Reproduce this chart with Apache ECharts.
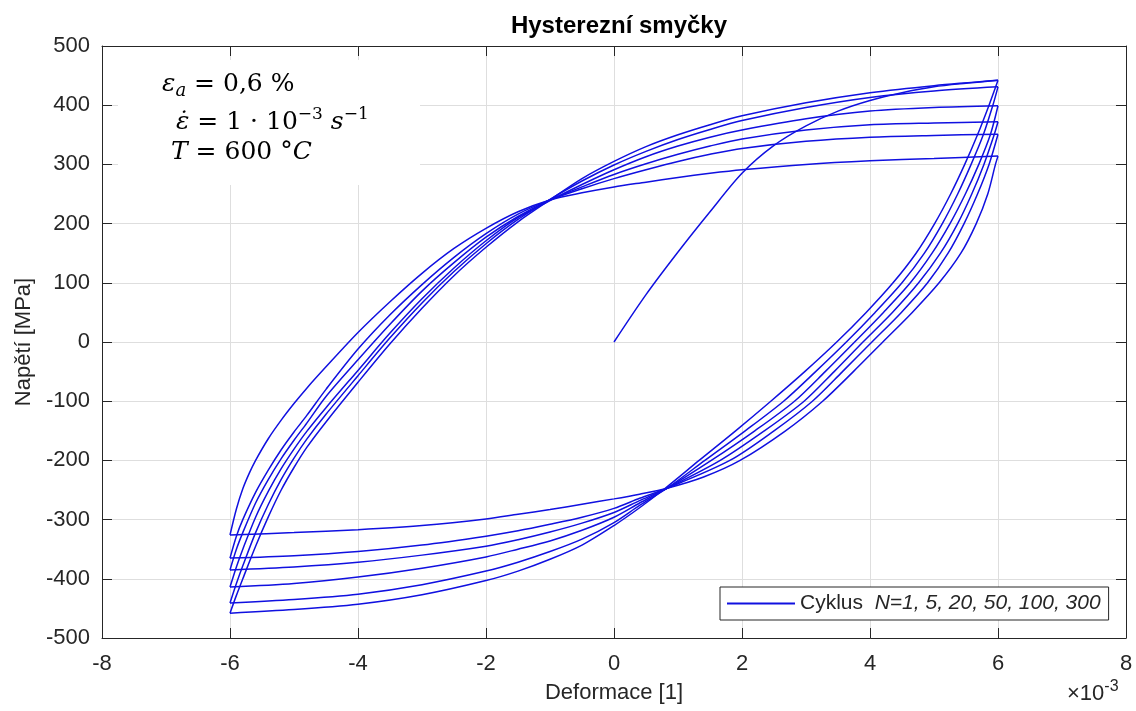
<!DOCTYPE html>
<html><head><meta charset="utf-8">
<script src="https://cdn.jsdelivr.net/npm/echarts@6/dist/echarts.min.js"></script>
<style>html,body{margin:0;padding:0;background:#fff}#c{width:1136px;height:711px}</style>
</head><body><div id="c"></div>
<script>
// ---- data (strain in 1e-3, stress in MPa) ----
const initialLoading = [[0,0],[0.5,80],[1,152],[1.5,220],[2,285],[2.5,332],[3,365],[3.5,390],[4,408],[4.5,421],[5,431],[5.5,437],[6,442]];

const upperN1   = [[-6,-458],[-5.9,-428],[-5.8,-400],[-5.6,-345],[-5.4,-295],[-5.2,-250],[-5,-212],[-4.8,-178],[-4.5,-135],[-4,-68],[-3.5,-3],[-3,57],[-2.5,112],[-2,160],[-1.5,203],[-1,240],[-0.5,276],[0,305],[0.5,330],[1,350],[1.5,367],[2,382],[3,404],[4,421],[5,433],[6,442]];
const upperN5   = [[-6,-441],[-5.9,-408],[-5.8,-378],[-5.6,-322],[-5.4,-274],[-5.2,-232],[-5,-196],[-4.8,-164],[-4.5,-122],[-4,-57],[-3.5,7],[-3,66],[-2.5,119],[-2,166],[-1.5,207],[-1,241],[-0.5,272],[0,299],[0.5,322],[1,342],[1.5,359],[2,374],[3,396],[4,413],[5,424],[6,431]];
const upperN20  = [[-6,-414],[-5.9,-380],[-5.8,-350],[-5.6,-296],[-5.4,-252],[-5.2,-214],[-5,-181],[-4.8,-151],[-4.5,-111],[-4,-48],[-3.5,15],[-3,73],[-2.5,125],[-2,171],[-1.5,210],[-1,239],[-0.5,266],[0,291],[0.5,313],[1,331],[1.5,346],[2,358],[3,377],[4,390],[5,396],[6,399]];
const upperN50  = [[-6,-385],[-5.9,-350],[-5.8,-322],[-5.6,-272],[-5.4,-232],[-5.2,-197],[-5,-166],[-4.8,-137],[-4.5,-92],[-4,-30],[-3.5,30],[-3,86],[-2.5,134],[-2,177],[-1.5,212],[-1,240],[-0.5,262],[0,283],[0.5,301],[1,317],[1.5,331],[2,343],[3,358],[4,367],[5,370],[6,372]];
const upperN100 = [[-6,-365],[-5.9,-328],[-5.8,-300],[-5.6,-254],[-5.4,-216],[-5.2,-182],[-5,-152],[-4.8,-124],[-4.5,-80],[-4,-12],[-3.5,46],[-3,97],[-2.5,143],[-2,183],[-1.5,216],[-1,240],[-0.5,259],[0,276],[0.5,291],[1,305],[1.5,317],[2,327],[3,339],[4,346],[5,349],[6,351]];
const upperN300 = [[-6,-326],[-5.9,-282],[-5.8,-248],[-5.7,-222],[-5.6,-200],[-5.4,-163],[-5.2,-132],[-5,-104],[-4.8,-78],[-4.5,-42],[-4,16],[-3.5,68],[-3,116],[-2.5,158],[-2,192],[-1.5,220],[-1,240],[-0.5,252],[0,262],[0.5,270],[1,278],[1.5,285],[2,291],[3,300],[4,306],[5,310],[6,314]];

const lowerN1   = [[-6,-458],[-5,-452],[-4,-443],[-3,-427],[-2,-403],[-1.5,-387],[-1,-367],[-0.5,-343],[0,-310],[0.4,-280],[0.8,-247],[1.33,-200],[1.9,-150],[2.45,-100],[2.98,-50],[3.48,0],[3.94,50],[4.36,100],[4.72,150],[5.01,200],[5.26,250],[5.48,300],[5.68,350],[5.86,400],[6,442]];
const lowerN5   = [[-6,-441],[-5,-435],[-4,-426],[-3,-410],[-2,-387],[-1.5,-372],[-1,-354],[-0.5,-333],[0,-305],[0.4,-276],[0.83,-247],[1.42,-200],[2.05,-150],[2.65,-100],[3.15,-50],[3.63,0],[4.08,50],[4.5,100],[4.85,150],[5.13,200],[5.37,250],[5.58,300],[5.77,350],[5.92,400],[6,431]];
const lowerN20  = [[-6,-414],[-5,-408],[-4,-397],[-3,-382],[-2,-363],[-1.5,-350],[-1,-336],[-0.5,-318],[0,-296],[0.4,-272],[0.83,-247],[1.52,-200],[2.2,-150],[2.82,-100],[3.3,-50],[3.76,0],[4.21,50],[4.63,100],[4.97,150],[5.25,200],[5.49,250],[5.7,300],[5.88,350],[6,399]];
const lowerN50  = [[-6,-385],[-5,-380],[-4,-372],[-3,-360],[-2,-345],[-1.5,-334],[-1,-321],[-0.5,-306],[0,-288],[0.4,-268],[0.83,-247],[1.66,-200],[2.35,-150],[2.97,-100],[3.44,-50],[3.89,0],[4.35,50],[4.76,100],[5.1,150],[5.37,200],[5.59,250],[5.78,300],[5.94,350],[6,372]];
const lowerN100 = [[-6,-365],[-5,-361],[-4,-354],[-3,-343],[-2,-328],[-1.5,-319],[-1,-308],[-0.5,-296],[0,-281],[0.4,-264],[0.83,-247],[1.81,-200],[2.5,-150],[3.1,-100],[3.57,-50],[4.03,0],[4.49,50],[4.9,100],[5.22,150],[5.47,200],[5.68,250],[5.86,300],[6,351]];
const lowerN300 = [[-6,-326],[-5,-322],[-4,-317],[-3,-310],[-2,-299],[-1.5,-291],[-1,-283],[-0.5,-274],[0,-265],[0.4,-257],[0.83,-247],[1.4,-228],[1.97,-200],[2.68,-150],[3.26,-100],[3.74,-50],[4.2,0],[4.66,50],[5.08,100],[5.42,150],[5.66,200],[5.84,250],[5.96,300],[6,314]];

const seriesName = 'Cyklus';
const legendText = 'N=1, 5, 20, 50, 100, 300';
const titleText = 'Hysterezní smyčky';
const xName = 'Deformace [1]';
const yName = 'Napětí [MPa]';

// ---- chart ----
const FONT = '"Liberation Sans", Arial, Helvetica, sans-serif';
const TXT = '#262626';
const LINE = '#1010e0';
const branches = [initialLoading, upperN1, lowerN1, upperN5, lowerN5, upperN20, lowerN20, upperN50, lowerN50, upperN100, lowerN100, upperN300, lowerN300];

const chart = echarts.init(document.getElementById('c'), null, {renderer: 'canvas'});
const axisCommon = {
  axisLine: {show: true, onZero: false, lineStyle: {color: TXT, width: 1}},
  axisTick: {show: true, inside: true, length: 10, lineStyle: {color: TXT}},
};
chart.setOption({
  animation: false,
  backgroundColor: '#fff',
  title: {text: titleText, left: 614, textAlign: 'center', top: 9,
    textStyle: {fontFamily: FONT, fontSize: 24, fontWeight: 'bold', color: '#000'}},
  grid: {left: 102, right: 10, top: 46, bottom: 73, containLabel: false},
  legend: {data: [seriesName], left: 720, top: 587, icon: 'rect', itemWidth: 68, itemHeight: 2, itemGap: 8,
    padding: [6, 8, 6, 7], borderColor: TXT, borderWidth: 1, backgroundColor: '#fff', borderRadius: 0,
    formatter: () => '{n|' + seriesName + '}  {i|' + legendText + '}',
    textStyle: {fontFamily: FONT, fontSize: 21, color: TXT,
      rich: {n: {fontFamily: FONT, fontSize: 21, color: TXT}, i: {fontFamily: FONT, fontSize: 21, color: TXT, fontStyle: 'italic'}}}},
  xAxis: [
    Object.assign({type: 'value', min: -8, max: 8, interval: 2, position: 'bottom',
      name: xName, nameLocation: 'middle', nameGap: 44,
      nameTextStyle: {fontFamily: FONT, fontSize: 22, color: TXT},
      axisLabel: {fontFamily: FONT, fontSize: 22, color: TXT, margin: 15},
      splitLine: {show: true, lineStyle: {color: '#dedede', width: 1}}}, axisCommon),
    Object.assign({type: 'value', min: -8, max: 8, interval: 2, position: 'top',
      axisLabel: {show: false}, splitLine: {show: false}}, axisCommon)
  ],
  yAxis: [
    Object.assign({type: 'value', min: -500, max: 500, interval: 100, position: 'left',
      name: yName, nameLocation: 'middle', nameGap: 66, nameRotate: 90,
      nameTextStyle: {fontFamily: FONT, fontSize: 22, color: TXT},
      axisLabel: {fontFamily: FONT, fontSize: 22, color: TXT, margin: 12},
      splitLine: {show: true, lineStyle: {color: '#dedede', width: 1}}}, axisCommon),
    Object.assign({type: 'value', min: -500, max: 500, interval: 100, position: 'right',
      axisLabel: {show: false}, splitLine: {show: false}}, axisCommon)
  ],
  series: branches.map(d => ({
    type: 'line', name: seriesName, data: d, xAxisIndex: 0, yAxisIndex: 0,
    symbol: 'none', showSymbol: false, smooth: 0.3,
    lineStyle: {color: LINE, width: 1.5}, itemStyle: {color: LINE}, z: 3
  })),
  graphic: [
    {type: 'rect', z: 50, shape: {x: 118, y: 60, width: 302, height: 125}, style: {fill: '#fff'}},
    {type: 'text', z: 51, left: 162, top: 72, style: {
      text: '{v|ε}{sub|a}{t| = 0,6 %}',
      rich: {
        v: {fontFamily: 'DejaVu Serif', fontStyle: 'italic', fontSize: 25, lineHeight: 32, fill: '#000'},
        sub: {fontFamily: 'DejaVu Serif', fontStyle: 'italic', fontSize: 18, lineHeight: 22, verticalAlign: 'bottom', fill: '#000'},
        t: {fontFamily: 'DejaVu Serif', fontSize: 25, lineHeight: 32, fill: '#000'}
      }}},
    {type: 'text', z: 51, left: 176, top: 106, style: {
      text: '{v|ε̇}{t| = 1 · 10}{sup|−3}{t| }{v|s}{sup|−1}',
      rich: {
        v: {fontFamily: 'DejaVu Serif', fontStyle: 'italic', fontSize: 25, lineHeight: 32, fill: '#000'},
        sup: {fontFamily: 'DejaVu Serif', fontSize: 17, lineHeight: 18, verticalAlign: 'top', fill: '#000'},
        t: {fontFamily: 'DejaVu Serif', fontSize: 25, lineHeight: 32, fill: '#000'}
      }}},
    {type: 'text', z: 51, left: 171, top: 140, style: {
      text: '{v|T}{t| = 600 °}{v|C}',
      rich: {
        v: {fontFamily: 'DejaVu Serif', fontStyle: 'italic', fontSize: 25, lineHeight: 32, fill: '#000'},
        t: {fontFamily: 'DejaVu Serif', fontSize: 25, lineHeight: 32, fill: '#000'}
      }}},
    {type: 'text', z: 51, left: 1067, top: 679, style: {
      text: '{t|×10}{sup|-3}',
      rich: {
        t: {fontFamily: FONT, fontSize: 22, lineHeight: 30, fill: TXT},
        sup: {fontFamily: FONT, fontSize: 16, lineHeight: 16, verticalAlign: 'top', fill: TXT}
      }}}
  ]
});
</script>
</body></html>
